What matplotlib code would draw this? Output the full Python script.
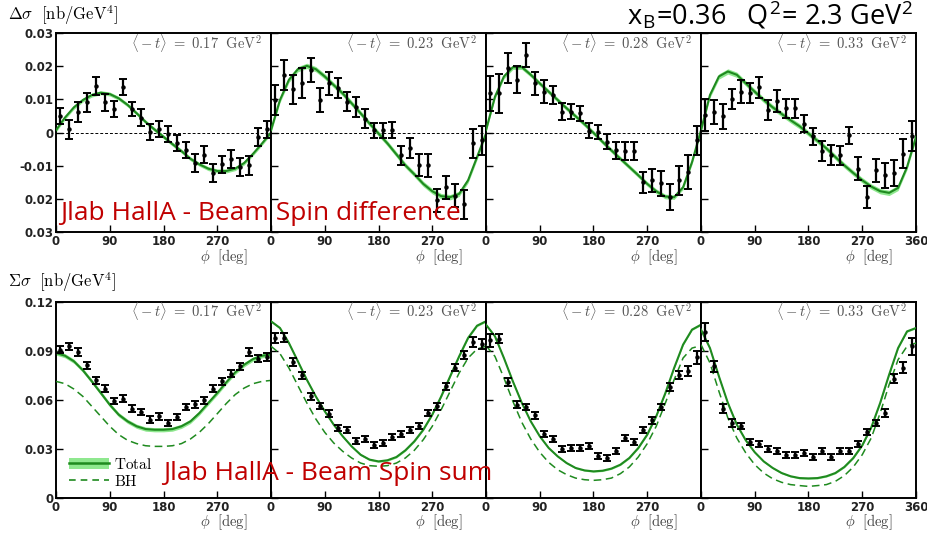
import numpy as np
import matplotlib.pyplot as plt
from matplotlib.lines import Line2D
from matplotlib.patches import Patch

plt.rcParams['mathtext.fontset'] = 'cm'

# <-t> bins (GeV^2)
t_bins = [0.17, 0.23, 0.28, 0.33]

# phi bin centres of the data and the grid of the model curves
phi = np.arange(7.5, 360, 15)
phi_curve = np.arange(0, 361, 15)

# ---- beam spin difference (nb/GeV^4) ----
dsig = [
    [0.0051, 0.0010, 0.0063, 0.0091, 0.0141, 0.0091, 0.0071, 0.0137, 0.0071, 0.0045, 0.0001, 0.0010,
     -0.0004, -0.0032, -0.0053, -0.0093, -0.0067, -0.0121, -0.0096, -0.0081, -0.0103, -0.0099, -0.0014, 0.0010],
    [0.0098, 0.0174, 0.0130, 0.0148, 0.0189, 0.0098, 0.0148, 0.0133, 0.0093, 0.0078, 0.0042, 0.0007,
     0.0007, 0.0007, -0.0069, -0.0048, -0.0099, -0.0099, -0.0205, -0.0165, -0.0190, -0.0217, -0.0033, -0.0023],
    [0.0118, 0.0118, 0.0194, 0.0159, 0.0234, 0.0148, 0.0123, 0.0113, 0.0063, 0.0063, 0.0058, 0.0005,
     0.0002, -0.0028, -0.0054, -0.0056, -0.0056, -0.0150, -0.0144, -0.0153, -0.0195, -0.0144, -0.0119, -0.0023],
    [0.0053, 0.0063, 0.0049, 0.0100, 0.0123, 0.0118, 0.0136, 0.0068, 0.0096, 0.0073, 0.0073, 0.0027,
     -0.0011, -0.0056, -0.0069, -0.0069, -0.0008, -0.0109, -0.0195, -0.0114, -0.0129, -0.0122, -0.0064, -0.0011],
]
dsig_err = [
    [0.0024, 0.0029, 0.0030, 0.0029, 0.0027, 0.0025, 0.0025, 0.0025, 0.0022, 0.0025, 0.0025, 0.0024,
     0.0025, 0.0025, 0.0025, 0.0027, 0.0025, 0.0027, 0.0026, 0.0027, 0.0027, 0.0028, 0.0028, 0.0026],
    [0.0044, 0.0045, 0.0043, 0.0045, 0.0036, 0.0035, 0.0035, 0.0030, 0.0028, 0.0030, 0.0028, 0.0023,
     0.0023, 0.0024, 0.0028, 0.0030, 0.0033, 0.0035, 0.0035, 0.0035, 0.0035, 0.0043, 0.0045, 0.0044],
    [0.0053, 0.0058, 0.0045, 0.0040, 0.0036, 0.0035, 0.0035, 0.0028, 0.0025, 0.0023, 0.0023, 0.0023,
     0.0021, 0.0023, 0.0025, 0.0026, 0.0028, 0.0032, 0.0035, 0.0038, 0.0040, 0.0043, 0.0052, 0.0044],
    [0.0049, 0.0036, 0.0037, 0.0030, 0.0034, 0.0030, 0.0032, 0.0031, 0.0033, 0.0029, 0.0028, 0.0025,
     0.0026, 0.0030, 0.0030, 0.0029, 0.0026, 0.0035, 0.0033, 0.0035, 0.0038, 0.0038, 0.0043, 0.0045],
]
dsig_fit = [
    [0.0007, 0.0045, 0.0076, 0.0098, 0.0113, 0.0120, 0.0116, 0.0103, 0.0083, 0.0058, 0.0032, 0.0009, -0.0013,
     -0.0035, -0.0056, -0.0079, -0.0096, -0.0109, -0.0116, -0.0116, -0.0109, -0.0092, -0.0064, -0.0033, 0.0000],
    [0.0007, 0.0098, 0.0159, 0.0191, 0.0201, 0.0191, 0.0169, 0.0143, 0.0118, 0.0088, 0.0058, 0.0027, -0.0003,
     -0.0033, -0.0066, -0.0099, -0.0126, -0.0155, -0.0177, -0.0192, -0.0195, -0.0185, -0.0144, -0.0074, -0.0003],
    [0.0007, 0.0108, 0.0169, 0.0197, 0.0197, 0.0174, 0.0148, 0.0123, 0.0098, 0.0073, 0.0049, 0.0025, -0.0001,
     -0.0028, -0.0054, -0.0079, -0.0104, -0.0129, -0.0155, -0.0177, -0.0193, -0.0195, -0.0165, -0.0089, 0.0007],
    [0.0007, 0.0113, 0.0169, 0.0184, 0.0174, 0.0148, 0.0123, 0.0098, 0.0076, 0.0056, 0.0037, 0.0019, -0.0003,
     -0.0025, -0.0048, -0.0074, -0.0099, -0.0122, -0.0144, -0.0163, -0.0177, -0.0182, -0.0167, -0.0104, -0.0013],
]
dsig_band = [0.0006, 0.0008, 0.0007, 0.0008]

# ---- beam spin sum (nb/GeV^4) ----
ssig = [
    [0.0908, 0.0929, 0.0894, 0.0812, 0.0720, 0.0669, 0.0594, 0.0608, 0.0547, 0.0527, 0.0480, 0.0500,
     0.0459, 0.0496, 0.0557, 0.0573, 0.0598, 0.0669, 0.0714, 0.0761, 0.0806, 0.0894, 0.0853, 0.0863],
    [0.0982, 0.0982, 0.0833, 0.0751, 0.0622, 0.0563, 0.0516, 0.0431, 0.0414, 0.0349, 0.0363, 0.0322,
     0.0337, 0.0373, 0.0390, 0.0418, 0.0439, 0.0520, 0.0561, 0.0684, 0.0798, 0.0873, 0.0955, 0.0945],
    [0.0965, 0.0976, 0.0710, 0.0571, 0.0557, 0.0506, 0.0390, 0.0363, 0.0302, 0.0308, 0.0308, 0.0316,
     0.0255, 0.0247, 0.0288, 0.0369, 0.0343, 0.0418, 0.0476, 0.0557, 0.0680, 0.0751, 0.0777, 0.0863],
    [0.1016, 0.0806, 0.0547, 0.0459, 0.0441, 0.0343, 0.0333, 0.0302, 0.0288, 0.0261, 0.0261, 0.0276,
     0.0251, 0.0288, 0.0251, 0.0288, 0.0288, 0.0333, 0.0404, 0.0459, 0.0520, 0.0731, 0.0798, 0.0929],
]
ssig_err = [
    [0.0023, 0.0023, 0.0023, 0.0022, 0.0022, 0.0022, 0.0021, 0.0021, 0.0021, 0.0020, 0.0020, 0.0020,
     0.0020, 0.0020, 0.0020, 0.0021, 0.0021, 0.0021, 0.0021, 0.0022, 0.0022, 0.0023, 0.0023, 0.0023],
    [0.0030, 0.0028, 0.0024, 0.0022, 0.0021, 0.0020, 0.0020, 0.0019, 0.0019, 0.0018, 0.0018, 0.0018,
     0.0018, 0.0018, 0.0018, 0.0019, 0.0019, 0.0020, 0.0020, 0.0021, 0.0022, 0.0024, 0.0028, 0.0030],
    [0.0040, 0.0030, 0.0024, 0.0022, 0.0021, 0.0020, 0.0019, 0.0019, 0.0018, 0.0018, 0.0018, 0.0018,
     0.0018, 0.0018, 0.0018, 0.0018, 0.0019, 0.0019, 0.0020, 0.0021, 0.0022, 0.0024, 0.0030, 0.0040],
    [0.0056, 0.0035, 0.0026, 0.0022, 0.0021, 0.0020, 0.0019, 0.0019, 0.0018, 0.0018, 0.0018, 0.0018,
     0.0018, 0.0018, 0.0018, 0.0018, 0.0019, 0.0019, 0.0020, 0.0021, 0.0022, 0.0026, 0.0035, 0.0051],
]
ssig_total = [
    [0.0888, 0.0871, 0.0837, 0.0782, 0.0714, 0.0643, 0.0571, 0.0510, 0.0469, 0.0439, 0.0422, 0.0418, 0.0418,
     0.0422, 0.0439, 0.0469, 0.0520, 0.0582, 0.0643, 0.0708, 0.0769, 0.0816, 0.0851, 0.0871, 0.0878],
    [0.1082, 0.1041, 0.0949, 0.0837, 0.0724, 0.0622, 0.0531, 0.0449, 0.0378, 0.0316, 0.0265, 0.0235, 0.0224,
     0.0231, 0.0251, 0.0292, 0.0347, 0.0418, 0.0510, 0.0622, 0.0745, 0.0867, 0.0980, 0.1055, 0.1082],
    [0.1061, 0.0990, 0.0857, 0.0714, 0.0582, 0.0469, 0.0378, 0.0306, 0.0255, 0.0214, 0.0184, 0.0169, 0.0163,
     0.0167, 0.0180, 0.0204, 0.0245, 0.0306, 0.0388, 0.0500, 0.0639, 0.0796, 0.0939, 0.1031, 0.1061],
    [0.1031, 0.0918, 0.0745, 0.0582, 0.0449, 0.0353, 0.0280, 0.0224, 0.0184, 0.0153, 0.0133, 0.0122, 0.0120,
     0.0122, 0.0133, 0.0153, 0.0190, 0.0245, 0.0322, 0.0431, 0.0582, 0.0755, 0.0918, 0.1020, 0.1041],
]
ssig_bh = [
    [0.0714, 0.0700, 0.0667, 0.0622, 0.0561, 0.0500, 0.0439, 0.0388, 0.0353, 0.0333, 0.0320, 0.0316, 0.0316,
     0.0320, 0.0333, 0.0361, 0.0402, 0.0455, 0.0516, 0.0578, 0.0633, 0.0673, 0.0700, 0.0714, 0.0720],
    [0.0929, 0.0884, 0.0796, 0.0688, 0.0582, 0.0484, 0.0402, 0.0337, 0.0286, 0.0245, 0.0214, 0.0198, 0.0194,
     0.0198, 0.0214, 0.0245, 0.0292, 0.0357, 0.0439, 0.0541, 0.0653, 0.0765, 0.0857, 0.0912, 0.0929],
    [0.0933, 0.0867, 0.0735, 0.0592, 0.0463, 0.0361, 0.0280, 0.0218, 0.0173, 0.0143, 0.0122, 0.0112, 0.0108,
     0.0112, 0.0122, 0.0149, 0.0190, 0.0251, 0.0333, 0.0439, 0.0578, 0.0724, 0.0857, 0.0918, 0.0933],
    [0.0939, 0.0827, 0.0653, 0.0490, 0.0367, 0.0276, 0.0204, 0.0153, 0.0118, 0.0096, 0.0082, 0.0076, 0.0071,
     0.0076, 0.0082, 0.0102, 0.0137, 0.0190, 0.0265, 0.0367, 0.0520, 0.0694, 0.0847, 0.0929, 0.0949],
]
ssig_band = [0.0013, 0.0006, 0.0005, 0.0005]

dsig_ticks = [0.03, 0.02, 0.01, 0, -0.01, -0.02, -0.03]
dsig_ticklabels = ['0.03', '0.02', '0.01', '0', '-0.01', '0.02', '0.03']
ssig_ticks = [0.12, 0.09, 0.06, 0.03, 0]
ssig_ticklabels = ['0.12', '0.09', '0.06', '0.03', '0']

line_green = '#1f8a1f'
band_green = '#8fe88f'

W, H = 928, 535
fig = plt.figure(figsize=(W / 100, H / 100), dpi=100)

x0, pw = 56, 215


def panel(i, top, bottom):
    return fig.add_axes([(x0 + i * pw) / W, 1 - bottom / H, pw / W, (bottom - top) / H])


def style(ax, i, ticks, labels, ylim):
    ax.set_xlim(0, 360)
    ax.set_ylim(*ylim)
    xt = [0, 90, 180, 270, 360] if i == 3 else [0, 90, 180, 270]
    ax.set_xticks(xt)
    ax.set_xticklabels([str(v) for v in xt])
    ax.set_yticks(ticks)
    ax.set_yticklabels(labels if i == 0 else [])
    ax.tick_params(direction='in', length=5, width=1.0, labelsize=8.5, pad=2,
                   top=False, right=False)
    for lab in ax.get_xticklabels() + ax.get_yticklabels():
        lab.set_fontweight('bold')
        lab.set_color('#222222')
    for s in ax.spines.values():
        s.set_linewidth(1.4)
    ax.text(0.958, 0.952, r'$\langle -t\rangle\ =\ %.2f\ \ \mathrm{GeV}^2$' % t_bins[i],
            transform=ax.transAxes, ha='right', va='center', fontsize=10.5, color='#555555')
    ax.text(0.89, -0.125, r'$\phi\ \ [\mathrm{deg}]$', transform=ax.transAxes,
            ha='right', va='center', fontsize=10.5, color='#444444')


ebar = dict(fmt='o', ms=2.2, color='black', ecolor='black', elinewidth=1.6,
            capsize=3, capthick=1.4, zorder=5)

# top row: beam spin difference
for i in range(4):
    ax = panel(i, 33, 232)
    fit = np.array(dsig_fit[i])
    ax.axhline(0, color='black', lw=0.7, ls=(0, (3, 2)), zorder=1)
    ax.fill_between(phi_curve, fit - dsig_band[i], fit + dsig_band[i], color=band_green, lw=0, zorder=2)
    ax.plot(phi_curve, fit, color=line_green, lw=1.5, zorder=3, solid_joinstyle='round')
    ax.errorbar(phi, dsig[i], yerr=dsig_err[i], **ebar)
    style(ax, i, dsig_ticks, dsig_ticklabels, (-0.03, 0.03))

# bottom row: beam spin sum
for i in range(4):
    ax = panel(i, 302, 498)
    tot = np.array(ssig_total[i])
    ax.fill_between(phi_curve, tot - ssig_band[i], tot + ssig_band[i], color=band_green, lw=0, zorder=2)
    ax.plot(phi_curve, tot, color=line_green, lw=1.5, zorder=3, solid_joinstyle='round')
    ax.plot(phi_curve, ssig_bh[i], color=line_green, lw=1.1, ls=(0, (5, 3)), zorder=3)
    ax.errorbar(phi, ssig[i], yerr=ssig_err[i], **ebar)
    style(ax, i, ssig_ticks, ssig_ticklabels, (0, 0.12))
    if i == 0:
        h_total = (Patch(facecolor=band_green, edgecolor='none'), Line2D([], [], color=line_green, lw=1.8))
        h_bh = Line2D([], [], color=line_green, lw=1.2, ls=(0, (4, 3)))
        ax.legend([h_total, h_bh], [r'$\mathrm{Total}$', r'$\mathrm{BH}$'], loc='lower left',
                  frameon=False, fontsize=11, handlelength=2.6, handletextpad=0.3,
                  labelspacing=0.15, borderaxespad=0.2, bbox_to_anchor=(0.02, 0.0))

fig.text(8 / W, 1 - 15 / H, r'$\Delta\sigma\ \ [\mathrm{nb/GeV}^4]$', fontsize=12, va='center', ha='left')
fig.text(8 / W, 1 - 282 / H, r'$\Sigma\sigma\ \ [\mathrm{nb/GeV}^4]$', fontsize=12, va='center', ha='left')

fig.text(913 / W, 1 - 15 / H,
         r'x$_\mathregular{B}$=0.36   Q$^\mathregular{2}$= 2.3 GeV$^\mathregular{2}$',
         fontsize=19.5, family='Open Sans', ha='right', va='center')

fig.text(60 / W, 1 - 213 / H, 'Jlab HallA - Beam Spin difference', color='#c00000',
         fontsize=19, family='Open Sans', ha='left', va='center', zorder=10)
fig.text(163 / W, 1 - 473 / H, 'Jlab HallA - Beam Spin sum', color='#c00000',
         fontsize=19, family='Open Sans', ha='left', va='center', zorder=10)

fig.savefig('out.png', dpi=100)
